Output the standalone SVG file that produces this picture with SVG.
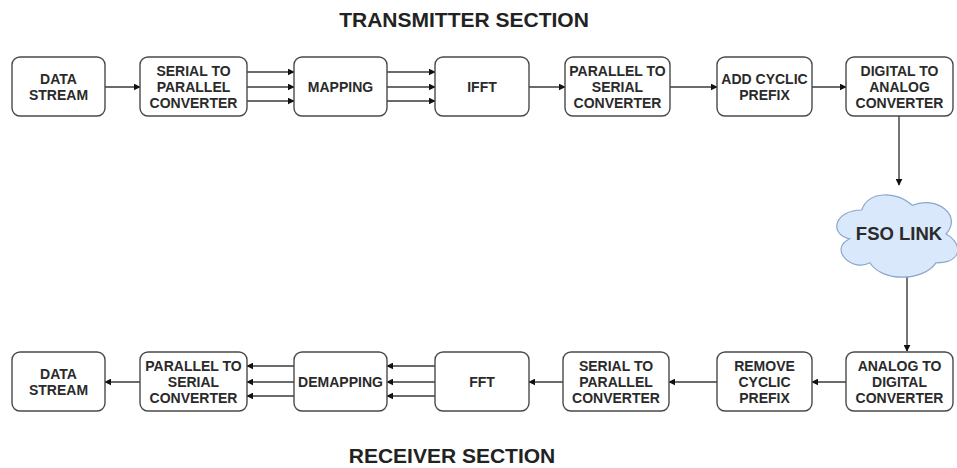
<svg xmlns="http://www.w3.org/2000/svg" width="957" height="468" viewBox="0 0 957 468">
<defs>
<style>
.box{fill:#ffffff;stroke:#4a4a4a;stroke-width:1.4}
.t{font-family:"Liberation Sans",Arial,sans-serif;font-weight:bold;font-size:14px;fill:#2a2a2a;text-anchor:middle}
.title{font-family:"Liberation Sans",Arial,sans-serif;font-weight:bold;font-size:21px;fill:#222;text-anchor:middle}
.c{fill:none;stroke:#3a3a3a;stroke-width:1.4;marker-end:url(#ah)}
.cloud{fill:#dae8fc;stroke:#8aa6cf;stroke-width:1.2}
</style>
<marker id="ah" viewBox="0 0 10 10" refX="9" refY="5" markerWidth="7" markerHeight="7" markerUnits="userSpaceOnUse" orient="auto">
<path d="M0,0 L10,5 L0,10 z" fill="#111"/>
</marker>
</defs>
<rect width="957" height="468" fill="#ffffff"/>
<text class="title" x="464" y="27">TRANSMITTER SECTION</text>
<text class="title" x="452" y="463">RECEIVER SECTION</text>

<g id="connectors">
<line class="c" x1="105" y1="87" x2="140" y2="87"/>
<line class="c" x1="247" y1="72" x2="294" y2="72"/>
<line class="c" x1="247" y1="87" x2="294" y2="87"/>
<line class="c" x1="247" y1="101" x2="294" y2="101"/>
<line class="c" x1="387" y1="72" x2="435" y2="72"/>
<line class="c" x1="387" y1="87" x2="435" y2="87"/>
<line class="c" x1="387" y1="101" x2="435" y2="101"/>
<line class="c" x1="529" y1="87" x2="565" y2="87"/>
<line class="c" x1="670" y1="87" x2="717" y2="87"/>
<line class="c" x1="812" y1="87" x2="846" y2="87"/>
<line class="c" x1="899" y1="116" x2="899" y2="185"/>
<line class="c" x1="907" y1="276" x2="907" y2="351"/>
<line class="c" x1="846" y1="382" x2="812" y2="382"/>
<line class="c" x1="717" y1="382" x2="669" y2="382"/>
<line class="c" x1="563" y1="382" x2="529" y2="382"/>
<line class="c" x1="435" y1="366" x2="387" y2="366"/>
<line class="c" x1="435" y1="382" x2="387" y2="382"/>
<line class="c" x1="435" y1="396" x2="387" y2="396"/>
<line class="c" x1="294" y1="366" x2="247" y2="366"/>
<line class="c" x1="294" y1="382" x2="247" y2="382"/>
<line class="c" x1="294" y1="396" x2="247" y2="396"/>
<line class="c" x1="140" y1="382" x2="105" y2="382"/>
</g>

<g id="tx-data">
<rect class="box" x="12" y="57" width="93" height="59" rx="8"/>
<text class="t" x="58.5" y="84">DATA</text>
<text class="t" x="58.5" y="100">STREAM</text>
</g>
<g id="tx-s2p">
<rect class="box" x="140" y="57" width="107" height="59" rx="8"/>
<text class="t" x="193.5" y="76">SERIAL TO</text>
<text class="t" x="193.5" y="92">PARALLEL</text>
<text class="t" x="193.5" y="108">CONVERTER</text>
</g>
<g id="tx-map">
<rect class="box" x="294" y="57" width="93" height="59" rx="8"/>
<text class="t" x="340.5" y="92">MAPPING</text>
</g>
<g id="tx-ifft">
<rect class="box" x="435" y="57" width="94" height="59" rx="8"/>
<text class="t" x="482" y="92">IFFT</text>
</g>
<g id="tx-p2s">
<rect class="box" x="565" y="57" width="105" height="59" rx="8"/>
<text class="t" x="617.5" y="76">PARALLEL TO</text>
<text class="t" x="617.5" y="92">SERIAL</text>
<text class="t" x="617.5" y="108">CONVERTER</text>
</g>
<g id="tx-cp">
<rect class="box" x="717" y="57" width="95" height="59" rx="8"/>
<text class="t" x="764.5" y="84">ADD CYCLIC</text>
<text class="t" x="764.5" y="100">PREFIX</text>
</g>
<g id="tx-dac">
<rect class="box" x="846" y="57" width="107" height="59" rx="8"/>
<text class="t" x="899.5" y="76">DIGITAL TO</text>
<text class="t" x="899.5" y="92">ANALOG</text>
<text class="t" x="899.5" y="108">CONVERTER</text>
</g>

<g id="fso">
<path class="cloud" transform="translate(828,186) scale(135,96)" vector-effect="non-scaling-stroke" d="M0.25,0.25 C0.05,0.25 0,0.5 0.16,0.55 C0,0.66 0.18,0.9 0.31,0.8 C0.4,1 0.7,1 0.8,0.8 C1,0.8 1,0.6 0.875,0.5 C1,0.3 0.8,0.1 0.625,0.2 C0.5,0.05 0.3,0.05 0.25,0.25 Z"/>
<text class="t" x="899" y="240" style="font-size:18.5px">FSO LINK</text>
</g>

<g id="rx-data">
<rect class="box" x="12" y="352" width="93" height="59" rx="8"/>
<text class="t" x="58.5" y="379">DATA</text>
<text class="t" x="58.5" y="395">STREAM</text>
</g>
<g id="rx-p2s">
<rect class="box" x="140" y="352" width="107" height="59" rx="8"/>
<text class="t" x="193.5" y="371">PARALLEL TO</text>
<text class="t" x="193.5" y="387">SERIAL</text>
<text class="t" x="193.5" y="403">CONVERTER</text>
</g>
<g id="rx-demap">
<rect class="box" x="294" y="352" width="93" height="59" rx="8"/>
<text class="t" x="340.5" y="387">DEMAPPING</text>
</g>
<g id="rx-fft">
<rect class="box" x="435" y="352" width="94" height="59" rx="8"/>
<text class="t" x="482" y="387">FFT</text>
</g>
<g id="rx-s2p">
<rect class="box" x="563" y="352" width="106" height="59" rx="8"/>
<text class="t" x="616" y="371">SERIAL TO</text>
<text class="t" x="616" y="387">PARALLEL</text>
<text class="t" x="616" y="403">CONVERTER</text>
</g>
<g id="rx-cp">
<rect class="box" x="717" y="352" width="95" height="59" rx="8"/>
<text class="t" x="764.5" y="371">REMOVE</text>
<text class="t" x="764.5" y="387">CYCLIC</text>
<text class="t" x="764.5" y="403">PREFIX</text>
</g>
<g id="rx-adc">
<rect class="box" x="846" y="352" width="107" height="59" rx="8"/>
<text class="t" x="899.5" y="371">ANALOG TO</text>
<text class="t" x="899.5" y="387">DIGITAL</text>
<text class="t" x="899.5" y="403">CONVERTER</text>
</g>
</svg>
